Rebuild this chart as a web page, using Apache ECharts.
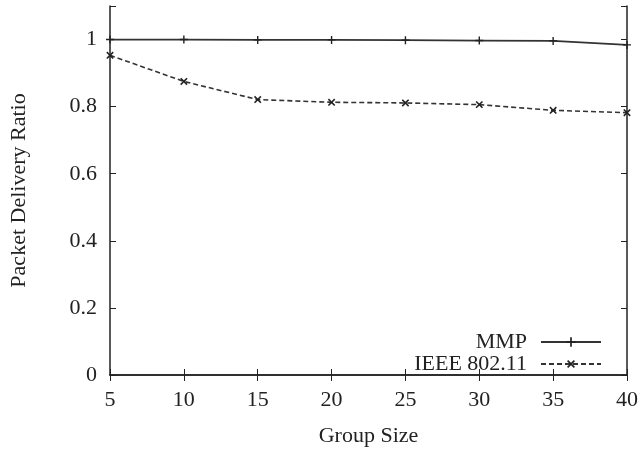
<!DOCTYPE html>
<html>
<head>
<meta charset="utf-8">
<script src="https://cdn.jsdelivr.net/npm/echarts@6/dist/echarts.min.js"></script>
<style>html,body{margin:0;padding:0;background:#fff}#c{width:643px;height:452px}</style>
</head>
<body>
<div id="c"></div>
<script>
const groupSizes = [5, 10, 15, 20, 25, 30, 35, 40];
const mmp = [1.0, 1.0, 0.999, 0.999, 0.998, 0.997, 0.996, 0.984];
const ieee = [0.953, 0.875, 0.821, 0.813, 0.811, 0.806, 0.789, 0.782];
const xTicks = [5, 10, 15, 20, 25, 30, 35, 40];
const yTicks = [0, 0.2, 0.4, 0.6, 0.8, 1];

const font = 'Liberation Serif, Times New Roman, serif';
const ink = '#222';
const plusPath = 'path://M3.3,0H4.7V3.3H8V4.7H4.7V8H3.3V4.7H0V3.3H3.3Z';

const chart = echarts.init(document.getElementById('c'), null, {renderer: 'canvas'});
const axisCommon = {
  type: 'value',
  axisLine: {show: true, lineStyle: {color: ink, width: 1.5}},
  axisTick: {show: true, inside: true, length: 6, lineStyle: {color: ink, width: 1}},
  splitLine: {show: false}
};
chart.setOption({
  animation: false,
  backgroundColor: '#fff',
  grid: {left: 110, right: 16, top: 6, bottom: 72, containLabel: false},
  xAxis: [
    Object.assign({}, axisCommon, {
      min: 5, max: 40, interval: 5, position: 'bottom',
      name: 'Group Size', nameLocation: 'middle', nameGap: 50,
      nameTextStyle: {fontFamily: font, fontSize: 22, color: ink},
      axisLabel: {fontFamily: font, fontSize: 22, color: ink, margin: 14,
        formatter: v => xTicks.includes(v) ? String(v) : ''}
    }),
    Object.assign({}, axisCommon, {
      min: 5, max: 40, interval: 5, position: 'top', axisLabel: {show: false}
    })
  ],
  yAxis: [
    Object.assign({}, axisCommon, {
      min: 0, max: 1.1, interval: 0.2, position: 'left',
      name: 'Packet Delivery Ratio', nameLocation: 'middle', nameGap: 80,
      nameTextStyle: {fontFamily: font, fontSize: 22, color: ink},
      axisLabel: {fontFamily: font, fontSize: 22, color: ink, margin: 13,
        formatter: v => {
          const t = yTicks.find(y => Math.abs(y - v) < 1e-6);
          return t === undefined ? '' : String(t);
        }}
    }),
    Object.assign({}, axisCommon, {
      min: 0, max: 1.1, interval: 0.2, position: 'right', axisLabel: {show: false}
    })
  ],
  legend: {
    orient: 'vertical', right: 41, top: 331, align: 'right', padding: 0,
    itemWidth: 60, itemHeight: 12, itemGap: 0,
    textStyle: {fontFamily: font, fontSize: 22, color: ink, lineHeight: 21, padding: [0, 9, 0, 0]},
    data: ['MMP', 'IEEE 802.11']
  },
  series: [
    {
      name: 'MMP', type: 'line', xAxisIndex: 0, yAxisIndex: 0,
      data: groupSizes.map((x, i) => [x, mmp[i]]),
      symbol: plusPath, symbolSize: 8, showSymbol: true,
      lineStyle: {color: '#333', width: 1.8, type: 'solid'},
      itemStyle: {color: '#222'}
    },
    {
      name: 'IEEE 802.11', type: 'line', xAxisIndex: 0, yAxisIndex: 0,
      data: groupSizes.map((x, i) => [x, ieee[i]]),
      symbol: plusPath, symbolRotate: 45, symbolSize: 9, showSymbol: true,
      lineStyle: {color: '#333', width: 1.6, type: [5, 3]},
      itemStyle: {color: '#222'}
    }
  ]
});
</script>
</body>
</html>
